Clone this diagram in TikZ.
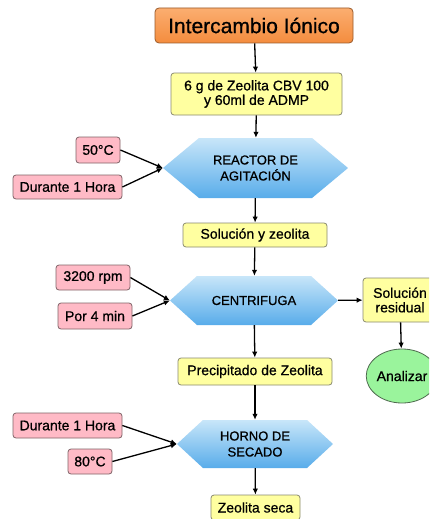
\documentclass[tikz,border=0pt]{standalone}
\usepackage{fontspec}
\setmainfont{Liberation Sans}[FakeBold=0.7]
\usetikzlibrary{arrows.meta,shapes.geometric}
\definecolor{orangeTop}{HTML}{FBAE70}
\definecolor{orangeBot}{HTML}{F48C3E}
\definecolor{orangeLine}{HTML}{9A5A2A}
\definecolor{yelFill}{HTML}{FFFFA0}
\definecolor{yelLine}{HTML}{8A8A70}
\definecolor{pinkFill}{HTML}{FFBAC6}
\definecolor{pinkLine}{HTML}{806468}
\definecolor{hexTop}{HTML}{C8E6F9}
\definecolor{hexBot}{HTML}{58ACEA}
\definecolor{greenFill}{HTML}{9AF49C}
\definecolor{greenLine}{HTML}{4E6A4E}
\tikzset{
  titlebox/.style={draw=orangeLine, line width=0.8pt, rounded corners=4pt,
    top color=orangeTop, bottom color=orangeBot, inner sep=0pt,
    minimum width=198pt, minimum height=35pt, font=\fontsize{21}{24}\selectfont},
  ybox/.style={draw=yelLine, fill=yelFill, line width=0.8pt, rounded corners=3pt,
    inner sep=0pt, align=center, font=\fontsize{14}{14.5}\selectfont},
  pbox/.style={draw=pinkLine, fill=pinkFill, line width=0.8pt, rounded corners=3pt,
    inner sep=0pt, align=center, font=\fontsize{14}{15}\selectfont},
  hexbox/.style={inner sep=0pt, align=center, font=\fontsize{13}{16}\selectfont,
    path picture={\shade[top color=hexTop, bottom color=hexBot]
      ([xshift=#1]path picture bounding box.north west) --
      ([xshift=-#1]path picture bounding box.north east) --
      (path picture bounding box.east) --
      ([xshift=-#1]path picture bounding box.south east) --
      ([xshift=#1]path picture bounding box.south west) --
      (path picture bounding box.west) -- cycle;}},
  ellbox/.style={ellipse, draw=greenLine, fill=greenFill, line width=0.8pt,
    inner sep=0pt, font=\fontsize{14}{15}\selectfont},
  arr/.style={line width=1.3pt, -{Latex[length=6pt,width=5.5pt]}},
}
\begin{document}
\begin{tikzpicture}[x=1pt, y=-1pt]
\clip (0,0) rectangle (429,519);
\fill[white] (0,0) rectangle (429,519);

\node[titlebox] (title) at (254,25.5) {Intercambio Iónico};
\node[ybox, minimum width=171pt, minimum height=42pt] (zeo) at (256.5,94) {6 g de Zeolita CBV 100\\y 60ml de ADMP};

\node[hexbox=36pt, minimum width=185pt, minimum height=60pt] (reactor) at (255.5,168) {REACTOR DE\\AGITACIÓN};
\node[pbox, minimum width=44pt, minimum height=26pt] (t50) at (98,150) {50°C};
\node[pbox, minimum width=109pt, minimum height=24pt] (h1) at (67.5,187) {Durante 1 Hora};

\node[ybox, minimum width=144pt, minimum height=24pt] (sol) at (255,235) {Solución y zeolita};

\node[hexbox=27pt, minimum width=168pt, minimum height=49pt] (cent) at (254,300.5) {CENTRIFUGA};
\node[pbox, minimum width=74pt, minimum height=25pt] (rpm) at (93,277.5) {3200 rpm};
\node[pbox, minimum width=74pt, minimum height=26pt] (min) at (95,316) {Por 4 min};

\node[ybox, minimum width=74pt, minimum height=44pt] (res) at (400,300) {Solución\\residual};
\node[ellbox, minimum width=71pt, minimum height=54pt] (anal) at (402,376) {Analizar};

\node[ybox, minimum width=154pt, minimum height=27pt] (prec) at (255,371.5) {Precipitado de Zeolita};

\node[hexbox=26pt, minimum width=156pt, minimum height=48pt] (horno) at (255,444) {HORNO DE\\SECADO};
\node[pbox, minimum width=109pt, minimum height=25pt] (h2) at (67.5,425.5) {Durante 1 Hora};
\node[pbox, minimum width=44pt, minimum height=25pt] (t80) at (90,461.5) {80°C};

\node[ybox, minimum width=89pt, minimum height=25pt] (seca) at (255.5,507.5) {Zeolita seca};

\draw[arr] (title) -- (zeo);
\draw[arr] (zeo) -- (reactor);
\draw[arr] (t50.east) -- (reactor.west);
\draw[arr] (h1.east) -- (reactor.west);
\draw[arr] (reactor) -- (sol);
\draw[arr] (sol) -- (cent);
\draw[arr] (rpm.east) -- (cent.west);
\draw[arr] (min.east) -- (cent.west);
\draw[arr] (cent) -- (res);
\draw[arr] (res) -- (anal);
\draw[arr] (cent) -- (prec);
\draw[arr] (prec) -- (horno);
\draw[arr] (h2.east) -- (horno.west);
\draw[arr] (t80.east) -- (horno.west);
\draw[arr] (horno) -- (seca);
\end{tikzpicture}
\end{document}
